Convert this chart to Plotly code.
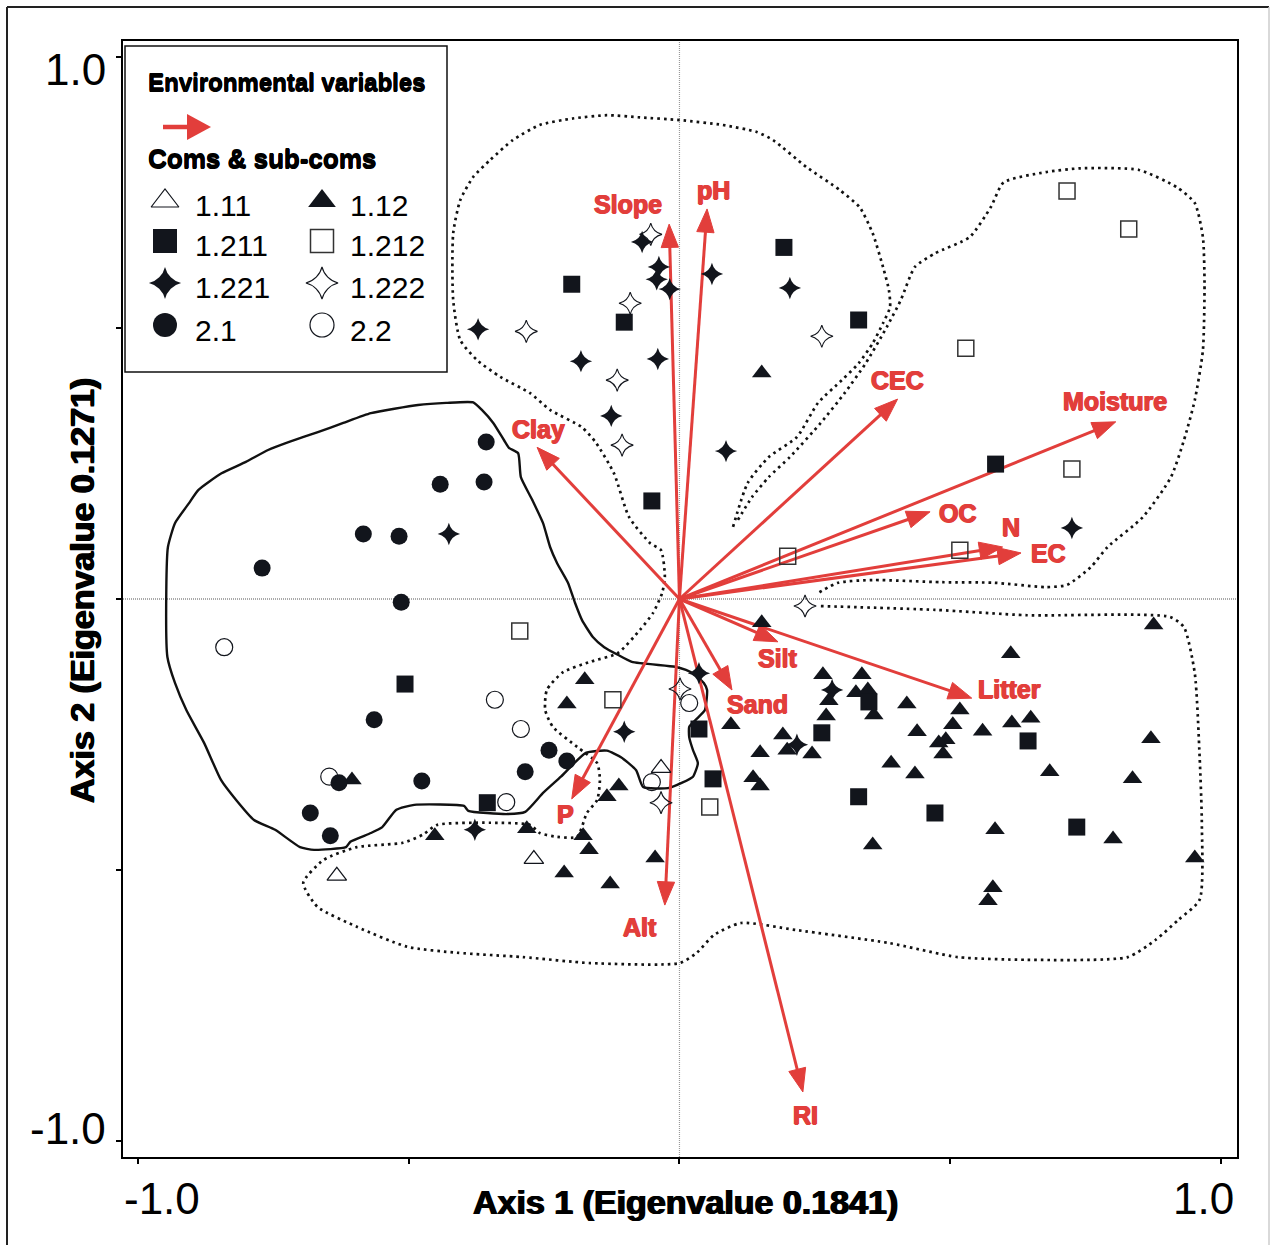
import numpy as np
import plotly.graph_objects as go

# ----------------------------- DATA -----------------------------
# Environmental variable vectors (CCA biplot scores)
env_vars = ["Slope", "pH", "CEC", "Moisture", "OC", "N", "EC",
            "Clay", "P", "Alt", "RI", "Silt", "Sand", "Litter"]
env_x = [-0.019, 0.051, 0.403, 0.806, 0.463, 0.597, 0.631,
         -0.263, -0.199, -0.027, 0.228, 0.182, 0.097, 0.540]
env_y = [0.692, 0.720, 0.369, 0.327, 0.161, 0.096, 0.085,
         0.280, -0.369, -0.565, -0.910, -0.079, -0.168, -0.183]

# Site scores per community / sub-community
g111_x = [-0.034, -0.269, -0.633]
g111_y = [-0.312, -0.480, -0.511]

g112_x = [0.152, -0.605, -0.175, -0.208, -0.112, -0.134, -0.452, -0.282, -0.178, -0.167,
          -0.045, -0.213, -0.128, 0.152, 0.876, 0.612, 0.265, 0.337, 0.276, 0.326,
          0.348, 0.359, 0.420, 0.518, 0.271, 0.095, 0.191, 0.199, 0.245, 0.149,
          0.439, 0.505, 0.560, 0.614, 0.649, 0.479, 0.492, 0.487, 0.391, 0.435,
          0.871, 0.684, 0.837, 0.136, 0.149, 0.583, 0.801, 0.357, 0.952, 0.579, 0.570]
g112_y = [0.417, -0.334, -0.149, -0.194, -0.345, -0.365, -0.437, -0.424, -0.437, -0.463,
          -0.478, -0.506, -0.526, -0.044, -0.048, -0.101, -0.140, -0.140, -0.188, -0.173,
          -0.168, -0.214, -0.194, -0.205, -0.216, -0.232, -0.251, -0.279, -0.286, -0.284,
          -0.245, -0.232, -0.244, -0.229, -0.220, -0.266, -0.260, -0.286, -0.303, -0.323,
          -0.258, -0.319, -0.332, -0.330, -0.345, -0.426, -0.443, -0.454, -0.478, -0.533, -0.557]

g1211_x = [-0.199, -0.102, 0.193, 0.331, -0.051, 0.584, -0.507, -0.355,
           0.036, 0.062, 0.350, 0.263, 0.644, 0.331, 0.472, 0.734]
g1211_y = [0.581, 0.511, 0.649, 0.515, 0.181, 0.249, -0.157, -0.376,
           -0.240, -0.332, -0.190, -0.247, -0.262, -0.365, -0.395, -0.421]

g1212_x = [0.716, 0.830, 0.529, 0.725, 0.518, 0.200, -0.295, -0.123, 0.056]
g1212_y = [0.753, 0.683, 0.463, 0.240, 0.090, 0.079, -0.059, -0.186, -0.384]

g1221_x = [-0.069, -0.038, -0.042, -0.018, 0.060, 0.204, -0.372, -0.182, -0.040,
           -0.126, 0.086, -0.426, 0.725, 0.036, -0.102, -0.378, 0.282, 0.217]
g1221_y = [0.659, 0.613, 0.590, 0.572, 0.600, 0.574, 0.498, 0.439, 0.443,
           0.338, 0.273, 0.120, 0.131, -0.137, -0.245, -0.426, -0.168, -0.269]

g1222_x = [-0.053, -0.091, -0.283, -0.115, -0.106, 0.263, 0.232, 0.001, -0.034]
g1222_y = [0.673, 0.546, 0.494, 0.404, 0.284, 0.485, -0.013, -0.166, -0.376]

g21_x = [-0.357, -0.442, -0.361, -0.584, -0.518, -0.771, -0.514, -0.564,
         -0.241, -0.208, -0.285, -0.476, -0.629, -0.682, -0.645]
g21_y = [0.290, 0.212, 0.216, 0.120, 0.116, 0.057, -0.006, -0.223,
         -0.279, -0.299, -0.319, -0.336, -0.339, -0.395, -0.437]

g22_x = [-0.841, -0.341, -0.293, -0.647, -0.320, -0.051, 0.018]
g22_y = [-0.089, -0.186, -0.240, -0.328, -0.375, -0.338, -0.192]

# Hand-drawn group envelopes (dotted = community 1, solid = community 2)
env1_x = [0.099, 0.126, 0.165, 0.217, 0.256, 0.300, 0.331, 0.357, 0.376, 0.389, 0.387, 0.376,
          0.357, 0.333, 0.296, 0.235, 0.173, 0.143, 0.080, 0.001, -0.073, -0.134, -0.197,
          -0.258, -0.308, -0.350, -0.381, -0.405, -0.418, -0.418, -0.405, -0.374, -0.331,
          -0.276, -0.239, -0.180, -0.154, -0.121, -0.093, -0.054, -0.034, -0.027, -0.032,
          -0.049, -0.073, -0.114, -0.165, -0.215, -0.245, -0.248, -0.234, -0.189, -0.152,
          -0.147, -0.152, -0.171, -0.189, -0.226, -0.258, -0.276, -0.350, -0.448, -0.474,
          -0.511, -0.596, -0.658, -0.695, -0.669, -0.596, -0.503, -0.411, -0.289, -0.165,
          0.001, 0.032, 0.064, 0.114, 0.215, 0.387, 0.514, 0.642, 0.828, 0.880, 0.922,
          0.961, 0.965, 0.961, 0.952, 0.932, 0.906, 0.642, 0.472, 0.259]
env1_y = [0.133, 0.214, 0.262, 0.299, 0.362, 0.404, 0.435, 0.472, 0.509, 0.539, 0.570, 0.613,
          0.675, 0.723, 0.755, 0.797, 0.847, 0.862, 0.875, 0.884, 0.889, 0.893, 0.887,
          0.875, 0.847, 0.810, 0.779, 0.736, 0.675, 0.552, 0.478, 0.441, 0.410,
          0.380, 0.349, 0.317, 0.288, 0.232, 0.151, 0.103, 0.090, 0.041, 0.011,
          -0.026, -0.057, -0.100, -0.116, -0.135, -0.168, -0.205, -0.236, -0.273, -0.303,
          -0.334, -0.371, -0.395, -0.439, -0.439, -0.432, -0.417, -0.413, -0.417, -0.435,
          -0.450, -0.458, -0.482, -0.524, -0.568, -0.605, -0.642, -0.653, -0.661, -0.672,
          -0.672, -0.653, -0.620, -0.598, -0.611, -0.635, -0.661, -0.666, -0.661, -0.629, -0.592,
          -0.555, -0.413, -0.292, -0.137, -0.052, -0.033, -0.030, -0.020, -0.013]

env2_x = [0.108, 0.134, 0.165, 0.204, 0.261, 0.305, 0.344, 0.383, 0.409, 0.435, 0.472, 0.536,
          0.575, 0.599, 0.677, 0.741, 0.849, 0.919, 0.952, 0.967, 0.970, 0.967, 0.952,
          0.932, 0.908, 0.856, 0.791, 0.760, 0.716, 0.677, 0.581, 0.485, 0.357, 0.293, 0.256]
env2_y = [0.146, 0.188, 0.225, 0.262, 0.325, 0.380, 0.435, 0.502, 0.552, 0.613, 0.638, 0.668,
          0.723, 0.769, 0.788, 0.795, 0.792, 0.760, 0.731, 0.668, 0.583, 0.459, 0.367,
          0.293, 0.225, 0.151, 0.096, 0.059, 0.026, 0.022, 0.030, 0.031, 0.035, 0.030, 0.011]

env3_x = [-0.381, -0.431, -0.483, -0.570, -0.621, -0.668, -0.721, -0.760, -0.801, -0.846,
          -0.889, -0.906, -0.932, -0.945, -0.948, -0.946, -0.932, -0.911, -0.878, -0.847,
          -0.819, -0.786, -0.747, -0.701, -0.675, -0.616, -0.608, -0.570, -0.549, -0.523,
          -0.490, -0.398, -0.390, -0.318, -0.285, -0.252, -0.219, -0.173, -0.134, -0.108,
          -0.080, -0.067, -0.021, 0.005, 0.025, 0.034, 0.025, 0.018, 0.018, 0.030, 0.047,
          0.051, 0.045, 0.029, 0.012, -0.008, -0.088, -0.114, -0.139, -0.160, -0.180,
          -0.193, -0.206, -0.226, -0.239, -0.252, -0.272, -0.293, -0.298, -0.315, -0.324,
          -0.344, -0.365, -0.381]
env3_y = [0.363, 0.362, 0.358, 0.343, 0.325, 0.308, 0.290, 0.275, 0.253, 0.232,
          0.201, 0.177, 0.140, 0.096, 0.017, -0.107, -0.155, -0.205, -0.266, -0.334,
          -0.371, -0.408, -0.426, -0.458, -0.463, -0.458, -0.448, -0.432, -0.421, -0.389,
          -0.380, -0.382, -0.391, -0.397, -0.393, -0.358, -0.328, -0.284, -0.280, -0.292,
          -0.316, -0.347, -0.349, -0.339, -0.328, -0.303, -0.279, -0.255, -0.236, -0.223, -0.205,
          -0.168, -0.155, -0.140, -0.131, -0.125, -0.116, -0.103, -0.089, -0.070, -0.039,
          -0.007, 0.030, 0.066, 0.096, 0.140, 0.183, 0.225, 0.269, 0.279, 0.293,
          0.325, 0.349, 0.363]

x_ticks = [-1.0, -0.5, 0.0, 0.5, 1.0]
y_ticks = [-1.0, -0.5, 0.0, 0.5, 1.0]
x_title = "Axis 1 (Eigenvalue 0.1841)"
y_title = "Axis 2 (Eigenvalue 0.1271)"

# ----------------------------- STYLE -----------------------------
RED = "#e23e3b"
INK = "#12151c"
XR = [-1.028, 1.030]
YR = [-1.030, 1.030]
W, H = 1271, 1245
ML, MR, MT, MB = 123, 34, 41, 88

label_pos = {
    "Slope": (-0.095, 0.729), "pH": (0.062, 0.755), "CEC": (0.403, 0.404),
    "Moisture": (0.804, 0.365), "OC": (0.514, 0.159), "N": (0.612, 0.133),
    "EC": (0.681, 0.085), "Clay": (-0.261, 0.314), "P": (-0.210, -0.397),
    "Alt": (-0.073, -0.605), "RI": (0.233, -0.952), "Silt": (0.182, -0.109),
    "Sand": (0.145, -0.194), "Litter": (0.610, -0.166),
}

groups = [
    ("1.11", g111_x, g111_y, dict(symbol="triangle-up-open", size=17, color=INK, line=dict(width=1.2, color=INK))),
    ("1.12", g112_x, g112_y, dict(symbol="triangle-up", size=17, color=INK)),
    ("1.211", g1211_x, g1211_y, dict(symbol="square", size=17, color=INK)),
    ("1.212", g1212_x, g1212_y, dict(symbol="square-open", size=16, color="#333", line=dict(width=1.5, color="#333"))),
    ("1.221", g1221_x, g1221_y, dict(symbol="star-diamond", size=16, color=INK)),
    ("1.222", g1222_x, g1222_y, dict(symbol="star-diamond-open", size=16, color=INK, line=dict(width=1.1, color=INK))),
    ("2.1", g21_x, g21_y, dict(symbol="circle", size=17, color=INK)),
    ("2.2", g22_x, g22_y, dict(symbol="circle-open", size=17, color=INK, line=dict(width=1.2, color=INK))),
]


def px2paper(px, py):
    return (px - ML) / (W - ML - MR), (H - MB - py) / (H - MT - MB)


def paper2data(xp, yp):
    return XR[0] + xp * (XR[1] - XR[0]), YR[0] + yp * (YR[1] - YR[0])


fig = go.Figure()

# envelopes
dotted = "2.6px,4px"
for hx, hy in [(env1_x, env1_y), (env2_x, env2_y)]:
    fig.add_trace(go.Scatter(x=hx, y=hy, mode="lines", hoverinfo="skip", showlegend=False,
                             line=dict(color="#111", width=2.7, dash=dotted, shape="spline", smoothing=0.6)))
fig.add_trace(go.Scatter(x=env3_x, y=env3_y, mode="lines", hoverinfo="skip", showlegend=False,
                         line=dict(color="#111", width=2.4, shape="spline", smoothing=0.5)))

# environmental arrows
HL, HW = 0.043, 0.016
for name, vx, vy in zip(env_vars, env_x, env_y):
    L = np.hypot(vx, vy)
    ux, uy = vx / L, vy / L
    bx, by = vx - HL * ux, vy - HL * uy
    fig.add_trace(go.Scatter(x=[0, bx + 0.004 * ux], y=[0, by + 0.004 * uy], mode="lines",
                             line=dict(color=RED, width=3), hoverinfo="skip", showlegend=False))
    fig.add_trace(go.Scatter(x=[vx, bx - HW * uy, bx + HW * uy, vx],
                             y=[vy, by + HW * ux, by - HW * ux, vy],
                             mode="lines", fill="toself", fillcolor=RED,
                             line=dict(color=RED, width=1), hoverinfo="skip", showlegend=False))

# site markers
for name, gx, gy, mk in groups:
    fig.add_trace(go.Scatter(x=gx, y=gy, mode="markers", marker=mk, name=name, showlegend=False))

# ----- custom legend -----
shapes = []
annotations = []
bx0, by0 = px2paper(125, 372)
bx1, by1 = px2paper(447, 46)
shapes.append(dict(type="rect", xref="paper", yref="paper", x0=bx0, y0=by0, x1=bx1, y1=by1,
                   line=dict(color="#111", width=1.5), fillcolor="white", layer="below"))

LEG_FONT = "Liberation Sans, Arial, sans-serif"
for txt, px, py, sz in [("Environmental variables", 146, 83, 24), ("Coms & sub-coms", 146, 159, 26)]:
    xp, yp = px2paper(px, py)
    annotations.append(dict(text=txt, x=xp, y=yp, xref="paper", yref="paper", xanchor="left",
                            yanchor="middle", showarrow=False,
                            font=dict(family=LEG_FONT, size=sz, color="black", weight="bold",
                                      shadow="0.5px 0 0 black, 0 0.6px 0 black, 0 -0.6px 0 black")))

# legend arrow
ax0, ay = px2paper(163, 127)
ax1, _ = px2paper(187, 127)
tipx, _ = px2paper(211, 127)
_, ayt = px2paper(0, 114)
_, ayb = px2paper(0, 140)
shapes.append(dict(type="line", xref="paper", yref="paper", x0=ax0, x1=ax1 + 0.002, y0=ay, y1=ay,
                   line=dict(color=RED, width=4.5), layer="above"))
shapes.append(dict(type="path", xref="paper", yref="paper", layer="above",
                   path=f"M {ax1},{ayt} L {tipx},{ay} L {ax1},{ayb} Z",
                   fillcolor=RED, line=dict(color=RED, width=0)))

leg_rows = [203, 243, 285, 327]
leg_cols_marker = [165, 322]
leg_cols_text = [193, 348]
for i, (name, gx, gy, mk) in enumerate(groups):
    r, c = i // 2, i % 2
    xp, yp = px2paper(leg_cols_marker[c], leg_rows[r] - 2)
    dx, dy = paper2data(xp, yp)
    m = dict(mk)
    m["size"] = mk["size"] + 7
    fig.add_trace(go.Scatter(x=[dx], y=[dy], mode="markers", marker=m, showlegend=False, hoverinfo="skip"))
    txp, typ = px2paper(leg_cols_text[c], leg_rows[r] + 3)
    annotations.append(dict(text=name, x=txp, y=typ, xref="paper", yref="paper", xanchor="left",
                            yanchor="middle", showarrow=False,
                            font=dict(family=LEG_FONT, size=30, color="black")))

# env labels
for name in env_vars:
    lx, ly = label_pos[name]
    annotations.append(dict(text=name, x=lx, y=ly, xref="x", yref="y", showarrow=False,
                            xanchor="center", yanchor="middle",
                            font=dict(family="Liberation Sans, Arial, sans-serif", size=25,
                                      color=RED, weight="bold",
                                      shadow=f"0.7px 0 0 {RED}, -0.7px 0 0 {RED}, 0 0.6px 0 {RED}")))

# tick labels (only the extremes are labelled)
TICK_FONT = dict(family="Liberation Sans, Arial, sans-serif", size=44, color="black")
for txt, px, py, xa in [("1.0", 108, 69, "right"), ("-1.0", 108, 1128, "right")]:
    xp, yp = px2paper(px, py)
    annotations.append(dict(text=txt, x=xp, y=yp, xref="paper", yref="paper", xanchor=xa,
                            yanchor="middle", showarrow=False, font=TICK_FONT))
for txt, px, py in [("-1.0", 162, 1198), ("1.0", 1203, 1198)]:
    xp, yp = px2paper(px, py)
    annotations.append(dict(text=txt, x=xp, y=yp, xref="paper", yref="paper", xanchor="center",
                            yanchor="middle", showarrow=False, font=TICK_FONT))

# axis titles
TITLE_FONT = dict(family="Liberation Sans, Arial, sans-serif", size=34, color="black", weight="bold",
                  shadow="0.8px 0 0 black, -0.8px 0 0 black")
xp, yp = px2paper(685, 1202)
annotations.append(dict(text=x_title, x=xp, y=yp, xref="paper", yref="paper", showarrow=False,
                        xanchor="center", yanchor="middle", font=TITLE_FONT))
xp, yp = px2paper(82, 591)
annotations.append(dict(text=y_title, x=xp, y=yp, xref="paper", yref="paper", showarrow=False,
                        xanchor="center", yanchor="middle", textangle=-90, font=TITLE_FONT))

# centre cross-hair lines
shapes.append(dict(type="line", xref="x", yref="paper", x0=0, x1=0, y0=0, y1=1,
                   line=dict(color="#999", width=1.2, dash="1px,1px"), layer="below"))
shapes.append(dict(type="line", xref="paper", yref="y", x0=0, x1=1, y0=0, y1=0,
                   line=dict(color="#555", width=1.2, dash="1px,1px"), layer="below"))

# outer frame
fl, ft = px2paper(7, 7)
fr, fb = px2paper(1269, 1260)
shapes.append(dict(type="line", xref="paper", yref="paper", x0=fl, x1=fr, y0=ft, y1=ft,
                   line=dict(color="#222", width=2)))
shapes.append(dict(type="line", xref="paper", yref="paper", x0=fl, x1=fl, y0=ft, y1=fb,
                   line=dict(color="#222", width=2)))
shapes.append(dict(type="line", xref="paper", yref="paper", x0=fr, x1=fr, y0=ft, y1=fb,
                   line=dict(color="#ccc", width=1.5)))

axis_common = dict(showgrid=False, zeroline=False, showline=True, linecolor="black", linewidth=2,
                   mirror=True, ticks="outside", ticklen=5, tickwidth=1.5, tickcolor="black",
                   showticklabels=False)
fig.update_layout(
    width=W, height=H, margin=dict(l=ML, r=MR, t=MT, b=MB),
    paper_bgcolor="white", plot_bgcolor="white", showlegend=False,
    xaxis=dict(range=XR, tickvals=x_ticks, **axis_common),
    yaxis=dict(range=YR, tickvals=y_ticks, **axis_common),
    shapes=shapes, annotations=annotations,
)

fig.write_html("out.html")
